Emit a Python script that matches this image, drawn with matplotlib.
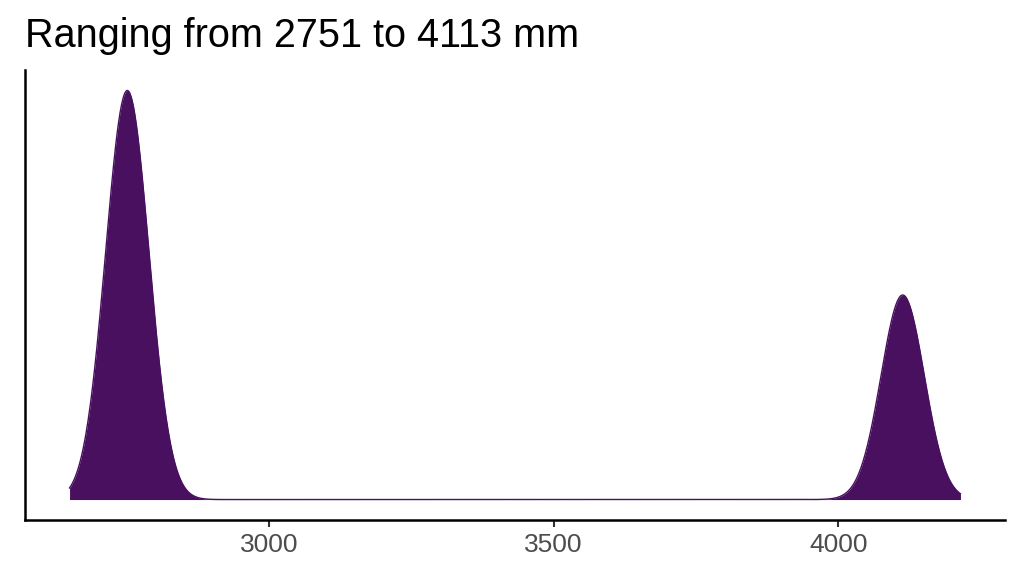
import numpy as np
import matplotlib.pyplot as plt

# observed lengths (mm) and smoothing bandwidth of the density
lengths = [2751, 2751, 4113]
bandwidth = 38
x_ticks = [3000, 3500, 4000]
title = "Ranging from 2751 to 4113 mm"

fill_color = "#48105e"

plt.rcParams['font.family'] = ['Liberation Sans', 'DejaVu Sans']

obs = np.array(lengths, dtype=float)
lo = obs.min() - 2.67 * bandwidth
hi = obs.max() + 2.67 * bandwidth
grid = np.linspace(lo, hi, 1200)
dens = np.exp(-0.5 * ((grid[:, None] - obs[None, :]) / bandwidth) ** 2).sum(axis=1)
dens = dens / (len(obs) * bandwidth * np.sqrt(2 * np.pi))

fig = plt.figure(figsize=(10.24, 5.76), dpi=100)
ax = fig.add_axes([25 / 1024, 1 - 520 / 576, 980 / 1024, 450 / 576])

ax.fill_between(grid, 0, dens, color=fill_color, linewidth=0)
ax.plot(grid, dens, color=fill_color, linewidth=1.0)

span = hi - lo
ax.set_xlim(lo - 0.05 * span, hi + 0.05 * span)
ax.set_ylim(-0.05 * dens.max(), 1.05 * dens.max())

ax.set_xticks(x_ticks)
ax.set_xticklabels([str(t) for t in x_ticks])
ax.set_yticks([])
ax.tick_params(axis='x', length=5, width=1.5, color='#333333',
               labelsize=19, labelcolor='#4d4d4d', pad=4)

for side in ['top', 'right']:
    ax.spines[side].set_visible(False)
for side in ['left', 'bottom']:
    ax.spines[side].set_linewidth(1.8)
    ax.spines[side].set_color('black')

fig.text(25 / 1024, 1 - 47 / 576, title, fontsize=28.5, color='black',
         ha='left', va='baseline')

fig.savefig("out.png", dpi=100)
plt.close(fig)
